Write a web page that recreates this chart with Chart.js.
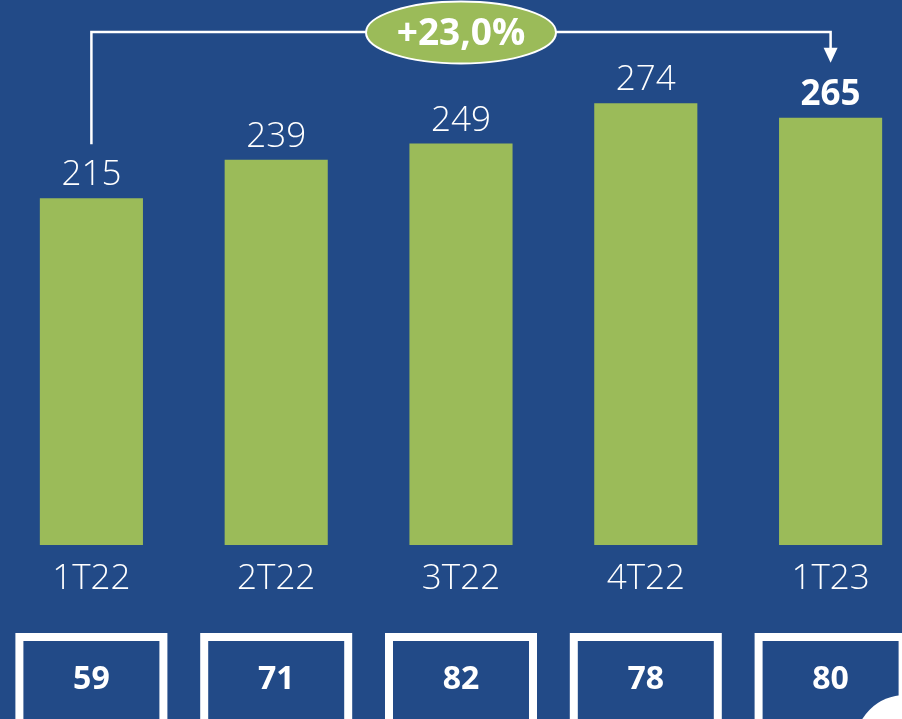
<!DOCTYPE html>
<html>
<head>
<meta charset="utf-8">
<script src="https://cdn.jsdelivr.net/npm/chart.js@4.4.0/dist/chart.umd.min.js"></script>
<style>
  html, body { margin: 0; padding: 0; background: #224a87; overflow: hidden; }
  #wrap { position: absolute; left: -1px; top: 0; width: 924px; height: 719px; }
</style>
</head>
<body>
<div id="wrap"><canvas id="grafico"></canvas></div>
<script>
// Datos
const trimestres = ['1T22', '2T22', '3T22', '4T22', '1T23'];
const valores = [215, 239, 249, 274, 265];
const cajas = [59, 71, 82, 78, 80];
const crecimiento = '+23,0%';

const FONDO = '#224a87';
const VERDE = '#9bbb59';
const FUENTE = "'Open Sans', sans-serif";

// Etiquetas, flecha de crecimiento y cajas inferiores
const extras = {
  id: 'extras',
  afterDatasetsDraw(chart) {
    const ctx = chart.ctx;
    const meta = chart.getDatasetMeta(0);
    ctx.save();

    // valores encima de las barras
    ctx.fillStyle = '#fff';
    ctx.textAlign = 'center';
    ctx.textBaseline = 'alphabetic';
    meta.data.forEach((bar, i) => {
      const ultimo = i === valores.length - 1;
      ctx.font = (ultimo ? '700 ' : '300 ') + '35px ' + FUENTE;
      ctx.fillText(valores[i], bar.x, bar.y - 13);
    });

    // corchete con flecha
    const b0 = meta.data[0];
    const bN = meta.data[meta.data.length - 1];
    const yLinea = 32;
    ctx.strokeStyle = '#fff';
    ctx.lineWidth = 2.5;
    ctx.beginPath();
    ctx.moveTo(b0.x, b0.y - 54);
    ctx.lineTo(b0.x, yLinea);
    ctx.lineTo(bN.x, yLinea);
    ctx.lineTo(bN.x, bN.y - 68);
    ctx.stroke();
    ctx.beginPath();
    ctx.moveTo(bN.x - 7, bN.y - 70);
    ctx.lineTo(bN.x + 7, bN.y - 70);
    ctx.lineTo(bN.x, bN.y - 55);
    ctx.closePath();
    ctx.fill();

    // elipse con el crecimiento
    const cx = meta.data[2].x;
    ctx.beginPath();
    ctx.ellipse(cx, 32.5, 95, 31, 0, 0, Math.PI * 2);
    ctx.fillStyle = VERDE;
    ctx.fill();
    ctx.lineWidth = 2;
    ctx.stroke();
    ctx.fillStyle = '#fff';
    ctx.textBaseline = 'middle';
    ctx.font = '700 37px ' + FUENTE;
    ctx.fillText(crecimiento, cx, 34);

    // cajas inferiores
    ctx.lineWidth = 8;
    ctx.font = '700 32px ' + FUENTE;
    meta.data.forEach((bar, i) => {
      ctx.strokeStyle = '#fff';
      ctx.strokeRect(bar.x - 72, 637, 144, 200);
      ctx.fillStyle = '#fff';
      ctx.fillText(cajas[i], bar.x, 680);
    });

    // circulo decorativo
    ctx.beginPath();
    ctx.arc(906, 745, 50, 0, Math.PI * 2);
    ctx.fillStyle = '#fff';
    ctx.fill();

    ctx.restore();
  }
};

new Chart(document.getElementById('grafico'), {
  type: 'bar',
  data: {
    labels: trimestres,
    datasets: [{
      data: valores,
      backgroundColor: VERDE,
      borderWidth: 0,
      barPercentage: 0.558,
      categoryPercentage: 1
    }]
  },
  options: {
    responsive: true,
    maintainAspectRatio: false,
    animation: false,
    layout: { padding: { top: 0, left: 0, right: 0, bottom: 106 } },
    plugins: { legend: { display: false }, tooltip: { enabled: false } },
    scales: {
      x: {
        grid: { display: false, drawTicks: false },
        border: { display: false },
        ticks: {
          color: '#fff',
          padding: 13,
          font: { family: FUENTE, size: 35, weight: 300 }
        }
      },
      y: { display: false, min: 0, max: 338 }
    }
  },
  plugins: [extras]
});
</script>
</body>
</html>
